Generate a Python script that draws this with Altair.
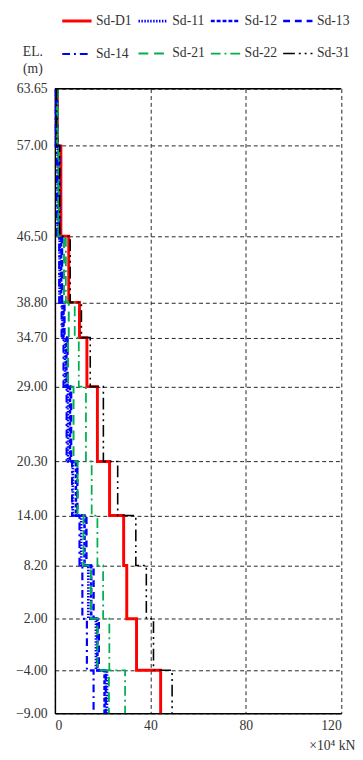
import altair as alt
import pandas as pd

# Elevation boundaries (m), top to bottom
elev = [63.65, 57.00, 46.50, 38.80, 34.70, 29.00, 20.30, 14.00, 8.20, 2.00, -4.00, -9.00]

series_names = ["Sd-D1", "Sd-11", "Sd-12", "Sd-13", "Sd-14", "Sd-21", "Sd-22", "Sd-31"]

# Value of each series in each elevation band (x10^4 kN)
sd_d1 = [1.0, 2.5, 5.8, 10.3, 13.4, 17.8, 22.9, 28.8, 30.1, 34.2, 44.3]
sd_11 = [0.5, 1.2, 2.0, 3.2, 4.2, 5.5, 7.5, 11.0, 14.0, 17.2, 21.8]
sd_12 = [0.8, 1.6, 2.6, 3.6, 4.8, 6.3, 8.8, 12.4, 15.2, 17.8, 20.8]
sd_13 = [1.0, 1.9, 3.0, 4.0, 5.3, 6.8, 9.4, 13.2, 16.2, 18.4, 21.3]
sd_14 = [0.4, 0.9, 1.8, 2.8, 3.6, 4.9, 7.2, 10.3, 11.5, 13.4, 16.2]
sd_21 = [0.9, 1.4, 3.8, 5.8, 5.5, 7.8, 9.5, 12.0, 15.1, 17.8, 22.6]
sd_22 = [1.2, 1.7, 4.6, 8.3, 10.0, 13.0, 15.4, 17.8, 20.2, 22.8, 29.4]
sd_31 = [0.7, 2.0, 6.4, 11.1, 14.8, 20.3, 26.3, 33.9, 38.3, 41.3, 49.1]

all_values = [sd_d1, sd_11, sd_12, sd_13, sd_14, sd_21, sd_22, sd_31]

colors = ["#ff0000", "#0000ff", "#0000ff", "#0000ff", "#0000ff", "#00b050", "#00b050", "#000000"]
dashes = [[1, 0], [1.5, 1.5], [4, 2], [7, 5], [8, 4, 2, 4], [10, 6], [10, 4, 2, 4], [12, 4, 2, 4, 2, 4]]
widths = [3, 1.6, 1.8, 1.8, 1.8, 1.8, 1.8, 1.6]

x_ticks = [0, 40, 80, 120]

rows = []
for name, vals in zip(series_names, all_values):
    for i, v in enumerate(vals):
        rows.append({"series": name, "value": v, "elev": elev[i], "order": 2 * i})
        rows.append({"series": name, "value": v, "elev": elev[i + 1], "order": 2 * i + 1})
df = pd.DataFrame(rows)

FONT = "Liberation Serif"
TXT = "#333333"
GRID = "#222222"

lines = alt.Chart(df).mark_line().encode(
    x=alt.X(
        "value:Q",
        scale=alt.Scale(domain=[0, 120], nice=False, zero=False),
        axis=alt.Axis(
            values=x_ticks, format="d", title="×10⁴ kN",
            titleX=307, titleY=37, titleAlign="right", titleBaseline="alphabetic",
            titleFontWeight="normal", titleFontSize=14, titleFont=FONT, titleColor=TXT,
            labelFont=FONT, labelFontSize=14, labelColor=TXT, labelPadding=6,
            ticks=False, domainColor="#000000", domainWidth=1.5,
            grid=True, gridDash=[4, 3], gridColor=GRID, gridOpacity=1, gridWidth=1,
        ),
    ),
    y=alt.Y(
        "elev:Q",
        scale=alt.Scale(domain=[-9, 63.65], nice=False, zero=False),
        axis=alt.Axis(
            values=elev, format=".2f", title=["EL.", "(m)"],
            titleAngle=0, titleAlign="center", titleX=-23, titleY=-34,
            titleBaseline="alphabetic", titleLineHeight=17,
            titleFontWeight="normal", titleFontSize=14, titleFont=FONT, titleColor=TXT,
            labelFont=FONT, labelFontSize=14, labelColor=TXT, labelPadding=8,
            ticks=False, domainColor="#000000", domainWidth=1.5,
            grid=True, gridDash=[4, 3], gridColor=GRID, gridOpacity=1, gridWidth=1,
        ),
    ),
    color=alt.Color("series:N", scale=alt.Scale(domain=series_names, range=colors), title=""),
    strokeDash=alt.StrokeDash("series:N", scale=alt.Scale(domain=series_names, range=dashes), title=""),
    strokeWidth=alt.StrokeWidth("series:N", scale=alt.Scale(domain=series_names, range=widths), title=""),
    order=alt.Order("order:Q"),
)

top_rule = alt.Chart(pd.DataFrame({"y": [elev[0]]})).mark_rule(
    color="#000000", strokeWidth=1.5
).encode(y="y:Q")

chart = alt.layer(lines, top_rule).properties(
    width=293,
    height=639,
    autosize=alt.AutoSizeParams(type="none"),
    padding={"left": 48, "top": 74, "right": 14, "bottom": 31},
).configure_view(
    stroke=None
).configure_legend(
    orient="none",
    legendX=6,
    legendY=-86,
    direction="horizontal",
    columns=4,
    symbolType="stroke",
    symbolSize=900,
    symbolStrokeWidth=2,
    labelFont=FONT,
    labelFontSize=14,
    labelColor=TXT,
    labelOffset=3,
    columnPadding=0,
    rowPadding=10,
    padding=0,
)

chart.save("out.html", embed_options={"renderer": "svg", "actions": False})
